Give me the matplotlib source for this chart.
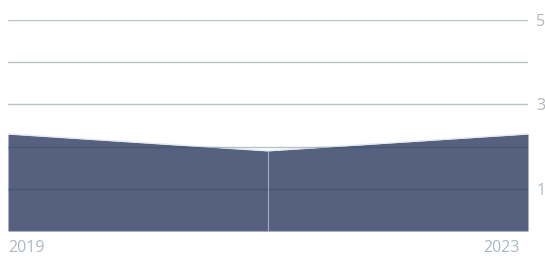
import matplotlib.pyplot as plt
from matplotlib.ticker import FixedLocator

years = [2019, 2021, 2023]
values = [2.3, 1.9, 2.3]
y_ticks = [1, 2, 3, 4, 5]
y_labels = ['1', '', '3', '', '5']
x_labels = ['2019', '2023']

plt.rcParams['font.family'] = ['Open Sans', 'DejaVu Sans']

fig = plt.figure(figsize=(5.45, 2.57), dpi=100)
ax = fig.add_axes([8 / 545, 26 / 257, 520 / 545, 211 / 257])

ax.fill_between(years, values, 0, color='#566180', lw=0, zorder=2)
ax.plot(years, values, color='#e4eaee', lw=1.0, zorder=3)
ax.vlines(years[1], 0, values[1], color='#a4aec0', lw=0.8, zorder=4)
ax.axhline(0, color='#d8dee2', lw=0.8, zorder=4)

for t in y_ticks:
    ax.axhline(t, color=(0.12, 0.27, 0.31), alpha=0.32, lw=1.0, zorder=5)

ax.set_xlim(years[0], years[-1])
ax.set_ylim(0, 5)
ax.yaxis.set_major_locator(FixedLocator(y_ticks))
ax.set_yticklabels(y_labels)
ax.yaxis.tick_right()
ax.tick_params(axis='y', length=0, pad=6, labelsize=11.5, labelcolor='#adb9c0')
ax.set_xticks([])
for s in ax.spines.values():
    s.set_visible(False)

ax.text(0, -0.08, x_labels[0], transform=ax.transAxes, ha='left', va='center',
        fontsize=11.5, color='#adb9c0')
ax.text(0.985, -0.08, x_labels[1], transform=ax.transAxes, ha='right', va='center',
        fontsize=11.5, color='#adb9c0')

fig.savefig('out.png', dpi=100)
